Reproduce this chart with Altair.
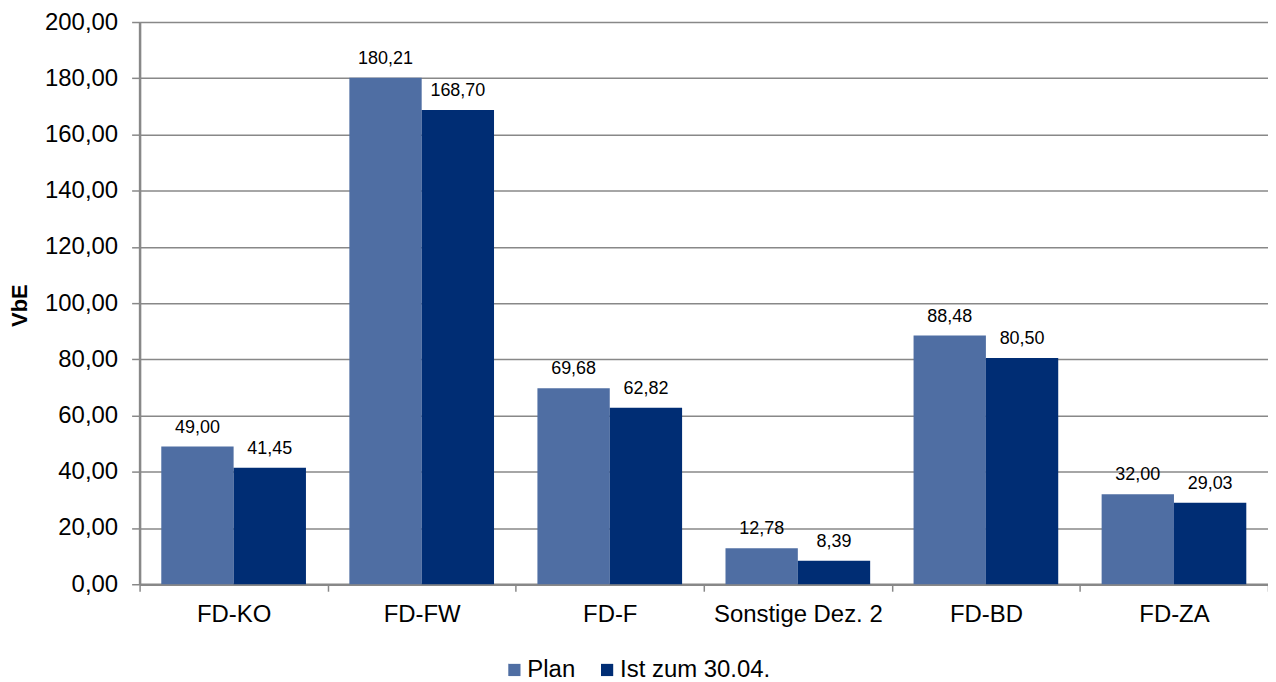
import altair as alt
import pandas as pd

categories = ["FD-KO", "FD-FW", "FD-F", "Sonstige Dez. 2", "FD-BD", "FD-ZA"]
series = ["Plan", "Ist zum 30.04."]
plan = [49.00, 180.21, 69.68, 12.78, 88.48, 32.00]
ist = [41.45, 168.70, 62.82, 8.39, 80.50, 29.03]
y_ticks = [0, 20, 40, 60, 80, 100, 120, 140, 160, 180, 200]
colors = ["#4F6EA3", "#002D74"]

rows = []
for c, p, i in zip(categories, plan, ist):
    rows.append({"Kategorie": c, "Serie": series[0], "Wert": p})
    rows.append({"Kategorie": c, "Serie": series[1], "Wert": i})
df = pd.DataFrame(rows)
df["Label"] = df["Wert"].map(lambda v: f"{v:.2f}".replace(".", ","))

grey = "#888888"
font = "Liberation Sans"

base = alt.Chart(df).encode(
    x=alt.X(
        "Kategorie:N",
        sort=categories,
        scale=alt.Scale(paddingInner=0, paddingOuter=0),
        axis=alt.Axis(
            title=None,
            labelAngle=0,
            tickBand="extent",
            domainColor=grey,
            domainWidth=2.5,
            tickColor=grey,
            tickWidth=1.5,
            tickSize=7,
            labelFontSize=24,
            labelPadding=11,
            labelColor="#000000",
            grid=False,
        ),
    ),
    xOffset=alt.XOffset(
        "Serie:N", sort=series, scale=alt.Scale(paddingInner=0, paddingOuter=0.3)
    ),
    y=alt.Y(
        "Wert:Q",
        scale=alt.Scale(domain=[0, 200], nice=False),
        axis=alt.Axis(
            values=y_ticks,
            title="VbE",
            titleFontSize=22,
            titleFontWeight="bold",
            titleColor="#000000",
            titleAngle=270,
            titleX=-113,
            titleY=284,
            titleAlign="center",
            titleBaseline="alphabetic",
            labelExpr="replace(format(datum.value, '.2f'), '.', ',')",
            labelFontSize=24,
            labelPadding=14,
            labelColor="#000000",
            grid=True,
            gridColor=grey,
            gridWidth=1.5,
            domainColor=grey,
            domainWidth=2.5,
            tickColor=grey,
            tickWidth=1.5,
            tickSize=8,
        ),
    ),
)

bars = base.mark_bar().encode(
    color=alt.Color(
        "Serie:N",
        sort=series,
        scale=alt.Scale(domain=series, range=colors),
        legend=alt.Legend(
            title=None,
            orient="none",
            legendX=364,
            legendY=638,
            direction="horizontal",
            symbolType="square",
            symbolSize=150,
            symbolStrokeWidth=0,
            symbolOpacity=1,
            labelFontSize=24,
            labelOffset=1,
            columnPadding=19,
            labelColor="#000000",
            padding=0,
        ),
    )
)

text = base.mark_text(
    dy=-14, baseline="alphabetic", fontSize=18, color="#000000"
).encode(text="Label:N")

chart = (
    alt.layer(bars, text)
    .properties(
        width=1132,
        height=564,
        autosize=alt.AutoSizeParams(type="none"),
        padding={"left": 132, "top": 13, "right": 0, "bottom": 97},
    )
    .configure_view(stroke=None)
    .configure(font=font)
)

chart.save("out.html", embed_options={"renderer": "svg", "actions": False})
